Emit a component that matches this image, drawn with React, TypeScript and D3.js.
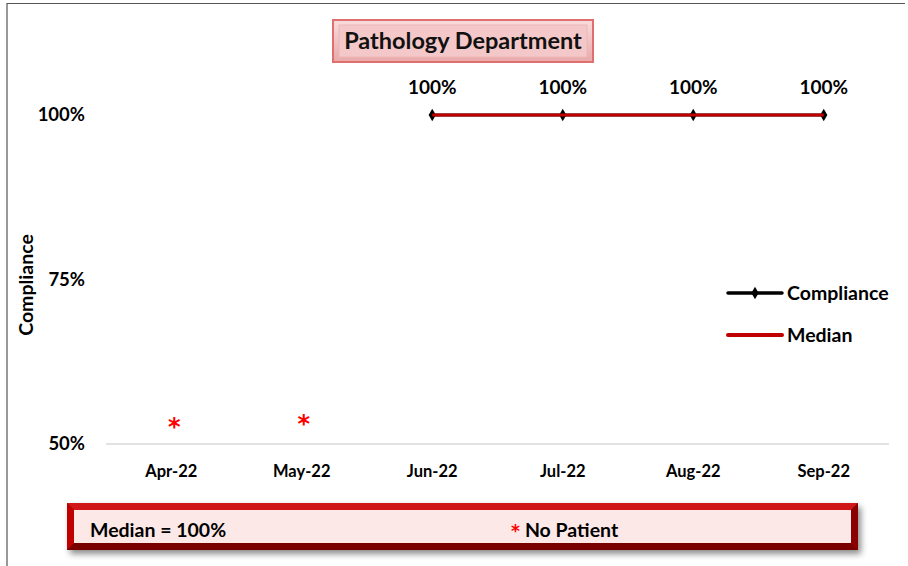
import React, { useEffect, useRef } from "react";
import * as d3 from "d3";

// data
const months = ["Apr-22", "May-22", "Jun-22", "Jul-22", "Aug-22", "Sep-22"];
const compliance: (number | null)[] = [null, null, 1, 1, 1, 1];
const median: (number | null)[] = [null, null, 1, 1, 1, 1];
const noPatient = [true, true, false, false, false, false];
const yTicks = [0.5, 0.75, 1];

const W = 908;
const H = 566;
const FONT = "Lato, 'Open Sans', sans-serif";
const STAR_FONT = "'DejaVu Sans', sans-serif";

const App: React.FC = () => {
  const svgRef = useRef<SVGSVGElement>(null);

  useEffect(() => {
    const svg = d3.select(svgRef.current);
    svg.html("");

    const defs = svg.append("defs");
    const tg = defs.append("linearGradient").attr("id", "titleGrad").attr("x1", 0).attr("y1", 0).attr("x2", 0).attr("y2", 1);
    tg.append("stop").attr("offset", "0%").attr("stop-color", "#f9dcdc");
    tg.append("stop").attr("offset", "100%").attr("stop-color", "#e9a9a9");
    const sh = defs.append("filter").attr("id", "shadow").attr("x", "-5%").attr("y", "-20%").attr("width", "115%").attr("height", "160%");
    sh.append("feDropShadow").attr("dx", 3).attr("dy", 4).attr("stdDeviation", 3).attr("flood-color", "#000").attr("flood-opacity", 0.45);

    // outer chart border (top + left)
    svg.append("path").attr("d", `M7,${H} L7,3.5 L905,3.5`).attr("fill", "none").attr("stroke", "#555").attr("stroke-width", 1.2);

    const x = d3.scaleBand<string>().domain(months).range([106, 889]);
    const cx = (m: string) => (x(m) ?? 0) + x.bandwidth() / 2;
    const y = d3.scaleLinear().domain([0.5, 1]).range([444, 115]);

    // x axis line
    svg.append("line").attr("x1", 106).attr("x2", 889).attr("y1", y(0.5)).attr("y2", y(0.5)).attr("stroke", "#d9d9d9").attr("stroke-width", 1.5);

    // y tick labels
    svg.append("g").selectAll("text").data(yTicks).join("text")
      .attr("x", 85).attr("y", (d) => y(d)).attr("dy", "0.35em").attr("text-anchor", "end")
      .attr("font-family", FONT).attr("font-weight", "bold").attr("font-size", 18.5).attr("fill", "#000")
      .text((d) => d3.format(".0%")(d));

    // x tick labels
    svg.append("g").selectAll("text").data(months).join("text")
      .attr("x", (d) => cx(d)).attr("y", 477).attr("text-anchor", "middle")
      .attr("font-family", FONT).attr("font-weight", "bold").attr("font-size", 16.5).attr("fill", "#000")
      .text((d) => d);

    // y axis title
    svg.append("text").attr("transform", "translate(33,285) rotate(-90)").attr("text-anchor", "middle")
      .attr("font-family", FONT).attr("font-weight", "bold").attr("font-size", 19.5).text("Compliance");

    const line = d3.line<number | null>()
      .defined((d) => d !== null)
      .x((_, i) => cx(months[i]))
      .y((d) => y(d as number));

    // compliance line (black, under median)
    svg.append("path").datum(compliance).attr("d", line).attr("fill", "none").attr("stroke", "#000").attr("stroke-width", 3);

    const diamond = d3.symbol().type(d3.symbolDiamond).size(45);
    const pts = compliance.map((v, i) => ({ v, m: months[i] })).filter((d) => d.v !== null) as { v: number; m: string }[];
    svg.append("g").selectAll("path").data(pts).join("path")
      .attr("transform", (d) => `translate(${cx(d.m)},${y(d.v)})`)
      .attr("d", diamond).attr("fill", "#000");
    // median line drawn over diamond centers
    svg.append("path").datum(median).attr("d", line).attr("fill", "none").attr("stroke", "#c00000").attr("stroke-width", 3.2);

    // data labels
    svg.append("g").selectAll("text").data(pts).join("text")
      .attr("x", (d) => cx(d.m)).attr("y", (d) => y(d.v) - 21).attr("text-anchor", "middle")
      .attr("font-family", FONT).attr("font-weight", "bold").attr("font-size", 19).attr("fill", "#000")
      .text((d) => d3.format(".0%")(d.v));

    // no patient asterisks
    const np = months.filter((_, i) => noPatient[i]);
    svg.append("g").selectAll("text").data(np).join("text")
      .attr("x", (d, i) => cx(d) + (i === 0 ? 3 : 2)).attr("y", (_, i) => (i === 0 ? 435 : 432)).attr("text-anchor", "middle")
      .attr("font-family", STAR_FONT).attr("font-weight", "bold").attr("font-size", 24).attr("fill", "#ff0000")
      .text("*");

    // title box
    const tb = svg.append("g");
    tb.append("rect").attr("x", 333).attr("y", 20).attr("width", 260).attr("height", 42)
      .attr("fill", "url(#titleGrad)").attr("stroke", "#e07070").attr("stroke-width", 2);
    tb.append("rect").attr("x", 339).attr("y", 25).attr("width", 248).attr("height", 32)
      .attr("fill", "#f4c8c8").attr("stroke", "#ecb3b3").attr("stroke-width", 0.8);
    tb.append("text").attr("x", 463).attr("y", 49).attr("text-anchor", "middle")
      .attr("font-family", FONT).attr("font-weight", "bold").attr("font-size", 23.5).attr("fill", "#111")
      .text("Pathology Department");

    // legend
    const lg = svg.append("g").attr("font-family", FONT).attr("font-weight", "bold").attr("font-size", 19.5);
    lg.append("line").attr("x1", 728).attr("x2", 782).attr("y1", 293).attr("y2", 293).attr("stroke", "#000").attr("stroke-width", 3.5).attr("stroke-linecap", "round");
    lg.append("path").attr("transform", "translate(755,293)").attr("d", diamond).attr("fill", "#000");
    lg.append("text").attr("x", 787).attr("y", 300).text("Compliance");
    lg.append("line").attr("x1", 728).attr("x2", 782).attr("y1", 335).attr("y2", 335).attr("stroke", "#c00000").attr("stroke-width", 4).attr("stroke-linecap", "round");
    lg.append("text").attr("x", 787).attr("y", 342).text("Median");

    // bottom note box
    const nb = svg.append("g");
    nb.append("rect").attr("x", 67).attr("y", 503).attr("width", 791).attr("height", 47)
      .attr("fill", "#b00000").attr("filter", "url(#shadow)");
    nb.append("path").attr("d", "M67,503 L858,503 L851,510 L74,510 Z").attr("fill", "#d01818");
    nb.append("path").attr("d", "M67,503 L74,510 L74,543 L67,550 Z").attr("fill", "#c00000");
    nb.append("path").attr("d", "M858,503 L858,550 L851,543 L851,510 Z").attr("fill", "#8a0000");
    nb.append("path").attr("d", "M67,550 L74,543 L851,543 L858,550 Z").attr("fill", "#7a0000");
    nb.append("rect").attr("x", 74).attr("y", 510).attr("width", 777).attr("height", 33).attr("fill", "#fde8e8");
    nb.append("text").attr("x", 90).attr("y", 537)
      .attr("font-family", FONT).attr("font-weight", "bold").attr("font-size", 19.5).attr("fill", "#000")
      .text("Median = 100%");
    const nt = nb.append("text").attr("x", 511).attr("y", 537)
      .attr("font-family", FONT).attr("font-weight", "bold").attr("font-size", 19.5).attr("fill", "#000");
    nt.append("tspan").attr("fill", "#ff0000").attr("font-family", STAR_FONT).attr("font-size", 17).text("*");
    nt.append("tspan").attr("dx", 5).text("No Patient");
  }, []);

  return (
    <svg ref={svgRef} width={W} height={H} style={{ position: "absolute", left: 0, top: 0, background: "#fff" }} />
  );
};

export default App;
